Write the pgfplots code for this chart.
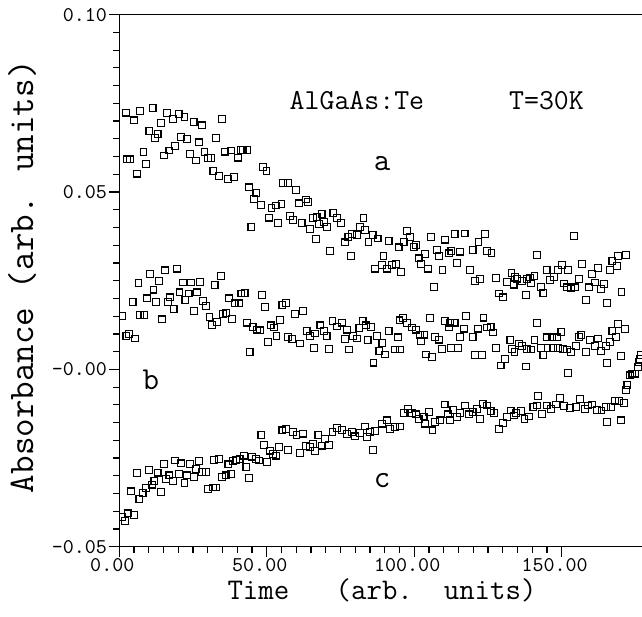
\documentclass[border=0pt]{standalone}
\usepackage{fontspec}
\usepackage{pgfplots}
\pgfplotsset{compat=1.18}

% typewriter text at a given size
\newcommand\fs[1]{\fontsize{#1}{#1}\selectfont\ttfamily}

\begin{document}
\begin{tikzpicture}
\begin{axis}[
    width=261.35pt, height=266pt, scale only axis,
    xmin=0, xmax=177.24, ymin=-0.05, ymax=0.10,
    axis x line*=box, axis y line*=left,
    xtick pos=bottom, ytick pos=left,
    xtick={0,50,100,150}, xticklabels={0.00,50.00,100.00,150.00},
    ytick={-0.05,0,0.05,0.10}, yticklabels={-0.05,-0.00,0.05,0.10},
    minor x tick num=9, minor y tick num=9,
    tick align=outside,
    major tick length=5pt, minor tick length=3pt,
    tick style={black, line width=0.6pt},
    axis line style={line width=0.7pt},
    tick label style={font=\fs{10.5}, inner sep=1pt},
    xticklabel style={xshift=-3.5pt, yshift=-0.2pt, inner sep=0.5pt},
    every axis x label/.style={at={(axis description cs:0.5026,-0.0985)}, anchor=base, inner sep=0pt, font=\fs{15}},
    every axis y label/.style={at={(axis description cs:-0.165,0.5075)}, rotate=90, anchor=base, font=\fs{18}},
    xlabel={Time\ \ \ (arb.\ \ units)},
    ylabel={Absorbance (arb. units)},
    clip=false,
]
\coordinate (bl) at (rel axis cs:0,0);
\coordinate (tr) at (rel axis cs:1,1);

% series a
\addplot[only marks, mark=square, mark size=1.7pt, mark options={line width=0.55pt, black}] coordinates {
(2.3,0.0724) (2.6,0.0592) (3.7,0.0592) (5.1,0.0702) (5.9,0.0552) (7.1,0.0729) (8.2,0.0613) (9.0,0.0579)
(10.2,0.0673) (11.3,0.0736) (12.1,0.0652) (13.0,0.0663) (14.1,0.0695) (15.1,0.0603) (16.2,0.0722) (17.0,0.0617)
(18.1,0.0705) (18.9,0.0630) (20.1,0.0720) (21.0,0.0656) (22.1,0.0711) (23.0,0.0649) (24.0,0.0608) (25.2,0.0697)
(25.9,0.0589) (27.0,0.0640) (28.0,0.0688) (28.9,0.0613) (30.0,0.0596) (31.2,0.0596) (31.9,0.0559) (32.9,0.0653)
(33.8,0.0545) (34.9,0.0706) (35.9,0.0614) (36.8,0.0536) (37.9,0.0617) (38.8,0.0542) (40.2,0.0597) (41.2,0.0618)
(41.8,0.0618) (43.3,0.0618) (44.0,0.0513) (44.8,0.0402) (45.6,0.0481) (46.5,0.0497) (48.0,0.0463) (48.7,0.0570)
(49.9,0.0559) (50.8,0.0428) (51.6,0.0454) (53.1,0.0462) (53.8,0.0413) (55.0,0.0466) (55.5,0.0526) (57.3,0.0526)
(57.8,0.0432) (59.0,0.0421) (59.9,0.0506) (61.0,0.0468) (61.8,0.0413) (63.3,0.0479) (64.1,0.0471) (64.6,0.0395)
(65.7,0.0426) (66.6,0.0367) (66.9,0.0430) (67.7,0.0410) (68.6,0.0438) (69.4,0.0416) (70.5,0.0401) (71.4,0.0333)
(72.6,0.0440) (73.9,0.0426) (75.1,0.0413) (76.5,0.0358) (77.7,0.0374) (78.6,0.0320) (78.8,0.0381) (80.5,0.0379)
(81.6,0.0402) (82.8,0.0427) (83.3,0.0393) (84.5,0.0360) (85.9,0.0379) (86.7,0.0284) (87.6,0.0369) (89.0,0.0294)
(89.6,0.0319) (90.7,0.0284) (91.3,0.0362) (92.4,0.0294) (93.9,0.0297) (94.7,0.0344) (95.6,0.0275) (96.4,0.0360)
(97.5,0.0391) (98.6,0.0374) (99.8,0.0345) (100.6,0.0350) (101.5,0.0313) (102.4,0.0297) (103.7,0.0326) (104.6,0.0284)
(105.6,0.0374) (106.6,0.0233) (107.7,0.0336) (108.5,0.0320) (109.6,0.0280) (110.5,0.0366) (111.7,0.0327) (112.6,0.0334)
(113.7,0.0381) (114.5,0.0299) (115.6,0.0332) (117.1,0.0383) (119.0,0.0280) (119.8,0.0336) (120.5,0.0250) (121.8,0.0360)
(122.4,0.0254) (123.9,0.0381) (124.7,0.0334) (126.2,0.0328) (127.8,0.0258) (128.7,0.0214) (130.0,0.0203) (131.5,0.0247)
(133.0,0.0272) (133.7,0.0239) (134.2,0.0261) (135.0,0.0256) (136.6,0.0250) (137.8,0.0209) (138.1,0.0254) (139.2,0.0259)
(139.7,0.0242) (140.8,0.0263) (141.7,0.0322) (142.9,0.0233) (143.8,0.0216) (144.9,0.0280) (146.0,0.0252) (147.4,0.0260)
(148.7,0.0280) (150.2,0.0294) (150.8,0.0242) (151.9,0.0231) (152.1,0.0280) (153.1,0.0228) (154.2,0.0377) (154.5,0.0231)
(155.9,0.0254) (157.0,0.0297) (158.2,0.0196) (159.3,0.0231) (160.2,0.0268) (161.2,0.0245) (162.3,0.0285) (163.3,0.0226)
(164.4,0.0240) (165.3,0.0188) (166.4,0.0280) (167.2,0.0306) (168.7,0.0291) (169.1,0.0319) (170.3,0.0218) (171.8,0.0322)
};

% series b
\addplot[only marks, mark=square, mark size=1.7pt, mark options={line width=0.55pt, black}] coordinates {
(1.1,0.0150) (2.4,0.0094) (3.4,0.0100) (4.5,0.0189) (5.3,0.0087) (6.5,0.0244) (7.1,0.0153) (8.5,0.0153)
(9.4,0.0200) (10.5,0.0269) (11.6,0.0225) (12.5,0.0190) (13.5,0.0249) (14.5,0.0141) (15.5,0.0279) (16.4,0.0190)
(17.3,0.0203) (18.4,0.0171) (19.5,0.0284) (20.4,0.0217) (21.5,0.0245) (22.4,0.0195) (23.5,0.0214) (24.4,0.0245)
(25.3,0.0165) (26.3,0.0217) (27.4,0.0247) (28.3,0.0192) (29.4,0.0179) (30.6,0.0148) (31.5,0.0126) (32.3,0.0237)
(33.2,0.0133) (34.4,0.0263) (35.1,0.0157) (36.3,0.0159) (37.2,0.0200) (38.2,0.0142) (39.1,0.0186) (40.5,0.0186)
(41.4,0.0214) (42.5,0.0216) (43.4,0.0132) (44.2,0.0049) (45.2,0.0119) (46.7,0.0112) (47.6,0.0110) (48.5,0.0210)
(49.3,0.0176) (50.5,0.0077) (51.3,0.0124) (52.4,0.0118) (53.3,0.0094) (54.4,0.0140) (55.3,0.0181) (56.5,0.0187)
(57.3,0.0091) (58.7,0.0086) (59.5,0.0157) (61.2,0.0073) (62.4,0.0165) (63.5,0.0108) (64.6,0.0094) (66.0,0.0060)
(66.3,0.0101) (68.2,0.0124) (69.4,0.0108) (70.3,0.0094) (71.2,0.0058) (72.3,0.0136) (73.9,0.0121) (75.4,0.0132)
(76.5,0.0085) (77.3,0.0112) (78.0,0.0056) (79.3,0.0094) (80.5,0.0087) (81.4,0.0117) (82.5,0.0136) (83.7,0.0124)
(84.2,0.0082) (85.3,0.0119) (86.2,0.0019) (87.3,0.0094) (88.2,0.0052) (89.2,0.0075) (90.1,0.0042) (91.3,0.0108)
(93.5,0.0056) (94.4,0.0090) (95.0,0.0138) (95.2,0.0056) (96.3,0.0145) (97.5,0.0131) (99.2,0.0118) (100.6,0.0112)
(102.0,0.0098) (102.4,0.0080) (103.5,0.0098) (104.0,0.0042) (105.4,0.0145) (106.0,0.0035) (107.1,0.0091) (108.3,0.0084)
(109.4,0.0058) (110.3,0.0136) (111.7,0.0118) (112.2,0.0132) (112.5,0.0061) (113.7,0.0132) (114.8,0.0060) (115.6,0.0091)
(116.8,0.0115) (117.6,0.0150) (119.8,0.0091) (120.5,0.0040) (121.6,0.0115) (123.0,0.0040) (123.5,0.0146) (124.7,0.0118)
(125.9,0.0119) (126.6,0.0104) (127.8,0.0061) (129.3,0.0011) (130.9,0.0030) (132.6,0.0082) (133.2,0.0058) (134.0,0.0049)
(135.5,0.0073) (136.6,0.0065) (137.8,0.0008) (138.1,0.0058) (139.5,0.0056) (140.8,0.0082) (141.7,0.0131) (142.9,0.0061)
(143.8,0.0040) (144.9,0.0090) (145.2,0.0061) (146.8,0.0090) (147.0,0.0061) (148.5,0.0090) (148.8,0.0061) (149.9,0.0106)
(150.5,0.0058) (151.9,0.0056) (152.2,-0.0010) (153.1,0.0049) (154.8,0.0065) (155.9,0.0091) (156.7,0.0096) (158.2,0.0049)
(159.6,0.0083) (161.2,0.0066) (162.3,0.0087) (163.3,0.0052) (165.0,0.0066) (165.3,0.0017) (166.4,0.0077) (167.2,0.0108)
(168.4,0.0091) (169.1,0.0127) (170.1,0.0038) (171.4,0.0113)
};

% series c
\addplot[only marks, mark=square, mark size=1.7pt, mark options={line width=0.55pt, black}] coordinates {
(1.1,-0.0417) (2.0,-0.0427) (2.8,-0.0406) (4.0,-0.0344) (4.9,-0.0410) (6.0,-0.0293) (6.8,-0.0365) (7.9,-0.0349)
(9.1,-0.0335) (10.0,-0.0283) (11.1,-0.0325) (11.9,-0.0314) (13.0,-0.0291) (14.2,-0.0346) (15.1,-0.0266) (15.9,-0.0309)
(17.0,-0.0299) (18.1,-0.0314) (19.0,-0.0257) (20.2,-0.0295) (21.0,-0.0265) (22.1,-0.0321) (23.0,-0.0299) (24.0,-0.0266)
(25.3,-0.0304) (26.1,-0.0281) (27.0,-0.0259) (28.0,-0.0290) (29.3,-0.0290) (30.0,-0.0337) (31.7,-0.0333) (32.0,-0.0255)
(32.9,-0.0333) (33.8,-0.0252) (34.9,-0.0304) (36.1,-0.0299) (37.0,-0.0268) (38.0,-0.0295) (38.5,-0.0259) (39.7,-0.0255)
(40.8,-0.0252) (42.2,-0.0243) (43.1,-0.0276) (44.0,-0.0307) (45.1,-0.0246) (46.3,-0.0252) (47.4,-0.0257) (48.2,-0.0186)
(49.1,-0.0214) (50.1,-0.0262) (51.0,-0.0229) (52.1,-0.0238) (53.1,-0.0243) (54.2,-0.0219) (55.3,-0.0172) (56.5,-0.0169)
(57.3,-0.0227) (59.0,-0.0176) (60.1,-0.0186) (61.2,-0.0236) (62.4,-0.0181) (63.3,-0.0217) (64.6,-0.0219) (65.7,-0.0211)
(66.3,-0.0231) (67.5,-0.0186) (68.6,-0.0215) (69.7,-0.0196) (71.2,-0.0213) (72.3,-0.0177) (73.9,-0.0165) (75.4,-0.0170)
(77.1,-0.0182) (78.8,-0.0177) (79.9,-0.0189) (81.6,-0.0180) (83.3,-0.0161) (83.9,-0.0191) (85.0,-0.0177) (86.1,-0.0228)
(86.7,-0.0174) (89.0,-0.0153) (90.7,-0.0144) (91.8,-0.0168) (93.5,-0.0163) (95.2,-0.0161) (96.4,-0.0123) (97.8,-0.0111)
(99.2,-0.0123) (100.6,-0.0127) (101.5,-0.0139) (103.2,-0.0133) (103.7,-0.0153) (104.9,-0.0121) (106.2,-0.0172) (107.1,-0.0149)
(108.8,-0.0144) (110.3,-0.0099) (111.5,-0.0127) (112.2,-0.0144) (113.3,-0.0114) (114.5,-0.0135) (115.6,-0.0123) (117.3,-0.0102)
(118.5,-0.0127) (119.8,-0.0121) (121.3,-0.0111) (122.4,-0.0139) (123.2,-0.0097) (124.7,-0.0102) (125.9,-0.0118) (127.0,-0.0123)
(128.7,-0.0168) (130.0,-0.0152) (131.5,-0.0135) (132.7,-0.0116) (133.8,-0.0130) (134.4,-0.0123) (136.1,-0.0118) (137.4,-0.0139)
(138.9,-0.0133) (140.4,-0.0107) (141.7,-0.0102) (142.0,-0.0076) (143.4,-0.0125) (144.9,-0.0102) (146.3,-0.0111) (148.0,-0.0099)
(149.4,-0.0080) (150.8,-0.0104) (152.8,-0.0108) (154.8,-0.0106) (156.2,-0.0083) (157.8,-0.0111) (158.9,-0.0102) (160.4,-0.0099)
(161.9,-0.0114) (163.5,-0.0116) (165.0,-0.0106) (165.3,-0.0149) (166.7,-0.0106) (168.0,-0.0088) (169.5,-0.0090) (170.1,-0.0144)
(171.2,-0.0094) (171.8,-0.0059) (172.3,-0.0045) (173.2,-0.0017) (174.0,-0.0012) (174.8,-0.0012) (175.9,0.0006) (176.3,0.0021)
(176.6,0.0030) (177.0,0.0040)
};

\node[anchor=base west, font=\fs{14.5}] at (axis cs:55.4,0.0732) {AlGaAs:Te};
\node[anchor=base west, font=\fs{14.5}] at (axis cs:129.8,0.0732) {T=30K};
\node[anchor=base, font=\fs{16}] at (axis cs:89.1,0.0562) {a};
\node[anchor=base, font=\fs{16}] at (axis cs:10.7,-0.0056) {b};
\node[anchor=base, font=\fs{16}] at (axis cs:89.1,-0.0332) {c};
\end{axis}
\pgfresetboundingbox
\path ([shift={(-59.65pt,-34.65pt)}]bl) rectangle ([shift={(0pt,7.35pt)}]tr);
\end{tikzpicture}
\end{document}
